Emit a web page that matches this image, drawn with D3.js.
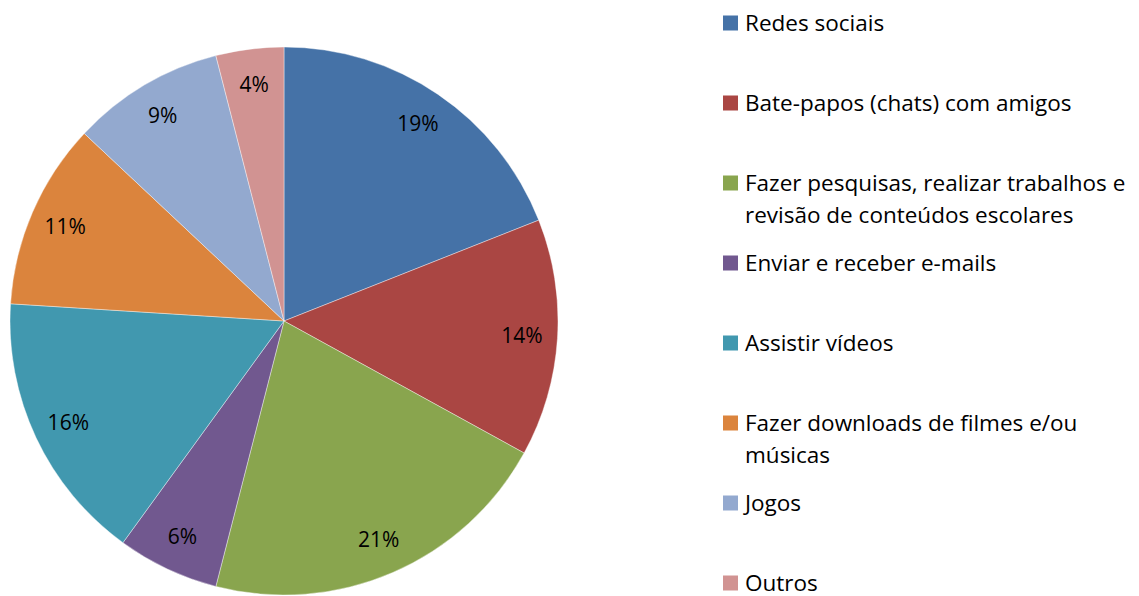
<!DOCTYPE html>
<html>
<head>
<meta charset="utf-8">
<script src="https://cdn.jsdelivr.net/npm/d3@7"></script>
<style>
  body { margin: 0; background: #fff; }
  text { font-family: "Open Sans", Lato, sans-serif; fill: #000; }
</style>
</head>
<body>
<script>
var width = 1139, height = 596;

// dados do gráfico
var categorias = [
  "Redes sociais",
  "Bate-papos (chats) com amigos",
  "Fazer pesquisas, realizar trabalhos e\nrevisão de conteúdos escolares",
  "Enviar e receber e-mails",
  "Assistir vídeos",
  "Fazer downloads de filmes e/ou\nmúsicas",
  "Jogos",
  "Outros"
];
var valores = [19, 14, 21, 6, 16, 11, 9, 4];
var cores = ["#4572A7", "#AA4643", "#89A54E", "#71588F", "#4198AF", "#DB843D", "#93A9CF", "#D19392"];

var cx = 284, cy = 321, raio = 274;

var svg = d3.select("body")
            .append("svg")
            .attr("width", width)
            .attr("height", height);

var cor = d3.scaleOrdinal().domain(categorias).range(cores);

var pie = d3.pie().sort(null).value(function(d) { return d.valor; });
var dados = categorias.map(function(c, i) { return {nome: c, valor: valores[i]}; });
var total = d3.sum(valores);

var arco = d3.arc().innerRadius(0).outerRadius(raio);
var arcoRotulo = d3.arc().innerRadius(raio * 0.87).outerRadius(raio * 0.87);

var g = svg.append("g").attr("transform", "translate(" + cx + "," + cy + ")");

var fatias = g.selectAll("g.fatia")
              .data(pie(dados))
              .enter()
              .append("g")
              .attr("class", "fatia");

fatias.append("path")
      .attr("d", arco)
      .style("fill", function(d) { return cor(d.data.nome); })
      .style("stroke", "#fff")
      .style("stroke-width", 0.4);

fatias.append("text")
      .attr("transform", function(d) { return "translate(" + arcoRotulo.centroid(d) + ")"; })
      .attr("text-anchor", "middle")
      .attr("dy", "0.35em")
      .style("font-size", "21px")
      .text(function(d) { return Math.round(d.data.valor / total * 100) + "%"; });

// legenda
var legenda = svg.append("g").attr("transform", "translate(723,0)");

var itens = legenda.selectAll("g.item")
                   .data(categorias)
                   .enter()
                   .append("g")
                   .attr("class", "item")
                   .attr("transform", function(d, i) { return "translate(0," + (23 + i * 80) + ")"; });

itens.append("rect")
     .attr("x", 0)
     .attr("y", -7.5)
     .attr("width", 15)
     .attr("height", 15)
     .style("fill", function(d) { return cor(d); });

itens.append("text")
     .attr("x", 22)
     .attr("y", 0)
     .style("font-size", "22.5px")
     .each(function(d) {
        var linhas = d.split("\n");
        var t = d3.select(this);
        linhas.forEach(function(l, j) {
          t.append("tspan")
           .attr("x", 22)
           .attr("dy", j === 0 ? "0.35em" : "32px")
           .text(l);
        });
     });
</script>
</body>
</html>
